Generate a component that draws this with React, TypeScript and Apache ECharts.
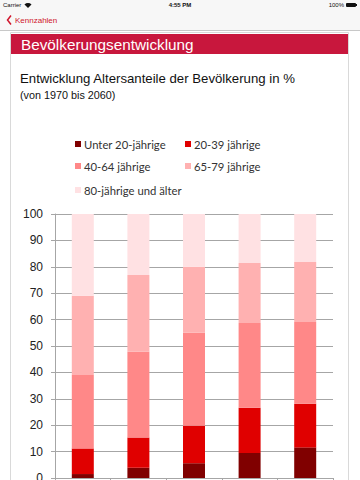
import React, { useEffect, useRef } from "react";
import * as echarts from "echarts";

const categories = ["1970", "2000", "2020", "2040", "2060"];
const seriesNames = [
  "Unter 20-jährige",
  "20-39 jährige",
  "40-64 jährige",
  "65-79 jährige",
  "80-jährige und älter",
];
const under20 = [1.5, 3.9, 5.6, 9.5, 11.6];
const age20to39 = [9.7, 11.4, 14.2, 17.1, 16.5];
const age40to64 = [27.8, 32.5, 35.2, 32.1, 31.0];
const age65to79 = [30.0, 29.1, 25.0, 22.7, 22.7];
const age80plus = [31.0, 23.1, 20.0, 18.6, 18.2];
const seriesColors = ["#800000", "#e00000", "#ff8888", "#ffb1b1", "#ffe1e3"];

export default function App() {
  const ref = useRef<HTMLDivElement>(null);
  useEffect(() => {
    if (!ref.current) return;
    const chart = echarts.init(ref.current, null, { renderer: "svg" });
    const values = [under20, age20to39, age40to64, age65to79, age80plus];
    const legendPos = [
      { left: 75, top: 137 },
      { left: 185, top: 137 },
      { left: 75, top: 159 },
      { left: 185, top: 159 },
      { left: 75, top: 183 },
    ];
    const font = "'Liberation Sans', Arial, sans-serif";
    chart.setOption({
      animation: false,
      backgroundColor: "#ffffff",
      title: [
        {
          text: "Entwicklung Altersanteile der Bevölkerung in %",
          left: 20,
          top: 72,
          padding: 0,
          textStyle: { fontFamily: font, fontSize: 13.2, fontWeight: "normal", color: "#111" },
        },
        {
          text: "(von 1970 bis 2060)",
          left: 20,
          top: 89.5,
          padding: 0,
          textStyle: { fontFamily: font, fontSize: 10.8, fontWeight: "normal", color: "#111" },
        },
      ],
      legend: seriesNames.map((n, i) => ({
        data: [n],
        left: legendPos[i].left,
        top: legendPos[i].top,
        padding: 0,
        icon: "rect",
        itemWidth: 6,
        itemHeight: 6,
        itemGap: 0,
        selectedMode: false,
        textStyle: { fontFamily: "Lato, sans-serif", fontSize: 11.3, color: "#333", lineHeight: 14, padding: [0, 0, 0, -2] },
      })),
      grid: { left: 55, right: 27, top: 214, bottom: 2, containLabel: false, outerBoundsMode: "none" },
      xAxis: {
        type: "category",
        data: categories,
        axisLine: { lineStyle: { color: "#a6a6a6", width: 1 } },
        axisTick: { show: true, length: 4, lineStyle: { color: "#a6a6a6" } },
        axisLabel: { show: false },
      },
      yAxis: {
        type: "value",
        min: 0,
        max: 100,
        interval: 10,
        axisLine: { show: true, lineStyle: { color: "#a6a6a6", width: 1 } },
        axisTick: { show: true, length: 4, lineStyle: { color: "#a6a6a6" } },
        splitLine: { show: true, lineStyle: { color: "#a6a6a6", width: 1 } },
        axisLabel: { fontFamily: font, fontSize: 12, color: "#222", margin: 12 },
      },
      series: seriesNames.map((n, i) => ({
        name: n,
        type: "bar",
        stack: "total",
        barWidth: 22,
        itemStyle: { color: seriesColors[i] },
        data: values[i],
      })),
      graphic: [
        { type: "rect", shape: { x: 0, y: 0, width: 360, height: 30 }, style: { fill: "#f7f7f7" } },
        { type: "line", shape: { x1: 0, y1: 30.5, x2: 360, y2: 30.5 }, style: { stroke: "#c8c8c8", lineWidth: 1 } },
        { type: "text", x: 3, y: 5, style: { text: "Carrier", fontFamily: font, fontSize: 6, fill: "#111", verticalAlign: "middle" } },
        { type: "sector", shape: { cx: 28, cy: 8, r: 5, r0: 0, startAngle: (-135 * Math.PI) / 180, endAngle: (-45 * Math.PI) / 180 }, style: { fill: "#111" } },
        { type: "text", x: 180, y: 5, style: { text: "4:55 PM", fontFamily: font, fontSize: 6, fontWeight: "bold", fill: "#111", align: "center", verticalAlign: "middle" } },
        { type: "text", x: 344, y: 5, style: { text: "100%", fontFamily: font, fontSize: 6, fill: "#111", align: "right", verticalAlign: "middle" } },
        { type: "rect", shape: { x: 346, y: 3, width: 10, height: 4, r: 1 }, style: { fill: "#111" } },
        { type: "rect", shape: { x: 356, y: 4, width: 1, height: 2 }, style: { fill: "#111" } },
        { type: "polyline", shape: { points: [[11, 15.5], [7.5, 20], [11, 24.5]] }, style: { stroke: "#d0152c", lineWidth: 1.5, fill: "none" } },
        { type: "text", x: 15, y: 20, style: { text: "Kennzahlen", fontFamily: font, fontSize: 8, fill: "#d0152c", verticalAlign: "middle" } },
        { type: "rect", shape: { x: 10.5, y: 32.5, width: 338, height: 470 }, style: { fill: "none", stroke: "#d9d9d9", lineWidth: 1 } },
        { type: "rect", shape: { x: 11, y: 34, width: 337, height: 20 }, style: { fill: "#c8173d" } },
        { type: "text", x: 21, y: 44.5, style: { text: "Bevölkerungsentwicklung", fontFamily: font, fontSize: 15.3, fill: "#ffffff", verticalAlign: "middle" } },
      ],
    });
    return () => chart.dispose();
  }, []);
  return (
    <div
      ref={ref}
      style={{ position: "fixed", left: 0, top: 0, width: 360, height: 480 }}
    />
  );
}
